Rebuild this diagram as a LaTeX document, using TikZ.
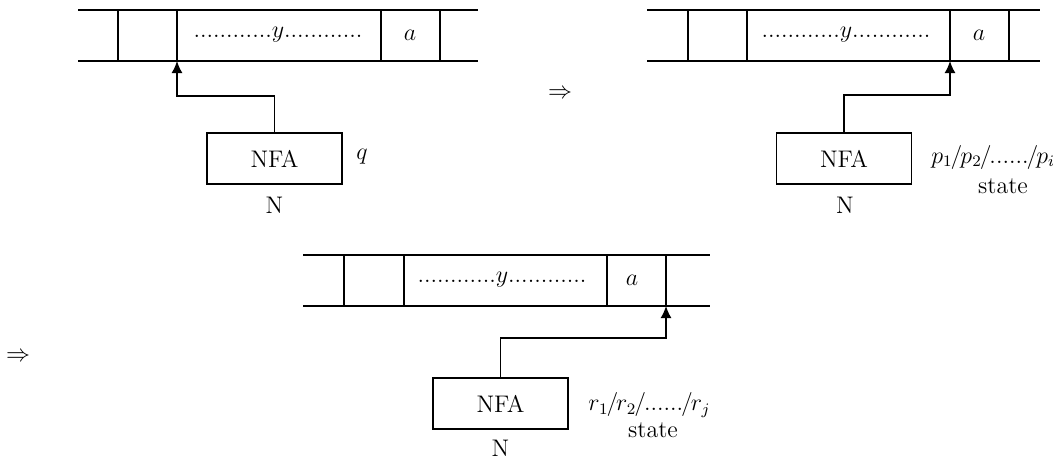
\documentclass[tikz,border=0pt]{standalone}
\usetikzlibrary{arrows.meta}
\begin{document}
\begin{tikzpicture}[x=0.5pt,y=-0.5pt,
  font=\fontsize{12}{14}\selectfont,
  tape/.style={line width=0.95pt},
  nfa/.style={draw, line width=0.9pt, minimum width=67.5pt, minimum height=25.5pt, inner sep=0pt},
  ptr/.style={line width=0.75pt, -{Latex[length=6pt,width=5.5pt]}},
  lbl/.style={inner sep=0pt}]
\useasboundingbox (0,0) rectangle (1064,462);

% ---- top-left configuration
\draw[tape] (78,10) -- (478,10) (78,61) -- (478,61);
\foreach \x in {118,177,381,440} \draw[tape] (\x,10) -- (\x,61);
\node[lbl] (y1) at (278,35) {............$y$............};
\node[lbl] (a1) at (410,35) {$a$};
\node[nfa] (n1) at (274.5,158.5) {NFA};
\node[lbl] (N1) at (274.5,205) {N};
\node[lbl] (q1) at (362,157) {$q$};
\coordinate (h1) at (177,61);
\draw[ptr] (n1.north) -- ++(0,-36) -| (h1);

% ---- top arrow
\node[lbl] (imp1) at (560,94) {$\Rightarrow$};

% ---- top-right configuration
\draw[tape] (647,10) -- (1040,10) (647,61) -- (1040,61);
\foreach \x in {688,747,950,1009} \draw[tape] (\x,10) -- (\x,61);
\node[lbl] (y2) at (846,35) {............$y$............};
\node[lbl] (a2) at (979,35) {$a$};
\node[nfa] (n2) at (844,158.5) {NFA};
\node[lbl] (N2) at (845,205) {N};
\node[lbl,anchor=west] (p2) at (931,157) {$p_1\mkern-1.5mu/\mkern-1.5mu p_2\mkern-1.5mu/\mkern-1.5mu......\mkern-1.5mu/\mkern-1.5mu p_i$};
\node[lbl] (s2) at (1003,186) {state};
\coordinate (h2) at (950,61);
\draw[ptr] (n2.north) -- ++(0,-37) -| (h2);

% ---- bottom arrow
\node[lbl] (imp2) at (18,357) {$\Rightarrow$};

% ---- bottom configuration
\draw[tape] (303,255) -- (710,255) (303,306) -- (710,306);
\foreach \x in {344,404,607,666} \draw[tape] (\x,255) -- (\x,306);
\node[lbl] (y3) at (502,280) {............$y$............};
\node[lbl] (a3) at (632,280) {$a$};
\node[nfa] (n3) at (500.5,403.5) {NFA};
\node[lbl] (N3) at (500.5,448) {N};
\node[lbl,anchor=west] (r3) at (588,405) {$r_1\mkern-1.5mu/\mkern-1.5mu r_2\mkern-1.5mu/\mkern-1.5mu......\mkern-1.5mu/\mkern-1.5mu r_j$};
\node[lbl] (s3) at (653,430) {state};
\coordinate (h3) at (666,306);
\draw[ptr] (n3.north) -- ++(0,-39) -| (h3);
\end{tikzpicture}
\end{document}
